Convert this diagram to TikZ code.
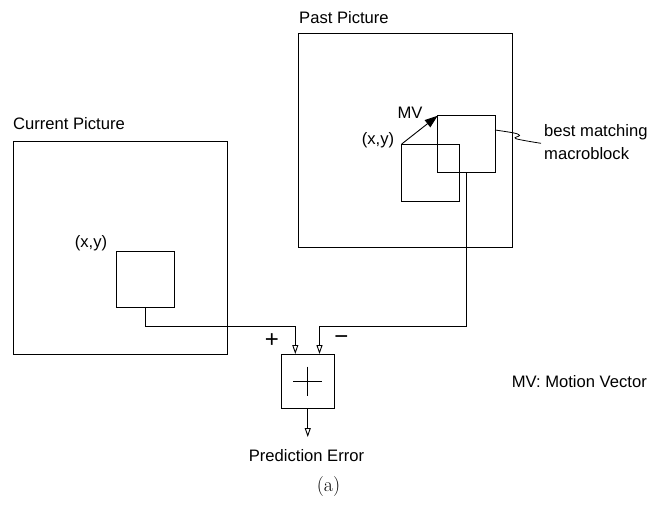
\documentclass[tikz,border=0pt]{standalone}
\usepackage{fontspec}
\setsansfont{Liberation Sans}
\usetikzlibrary{arrows.meta,calc}
\begin{document}
\begin{tikzpicture}[x=1pt,y=-1pt,
  box/.style={draw, line width=0.9pt, inner sep=0pt, outer sep=0pt},
  lbl/.style={font=\sffamily\fontsize{16.6}{19}\selectfont, inner sep=0pt},
  sgn/.style={font=\sffamily\fontsize{24}{26}\selectfont, inner sep=0pt},
  arr/.style={line width=0.9pt, -{Triangle[open,length=9pt,width=6pt]}},
  mvarr/.style={line width=0.9pt, -{Triangle[length=13pt,width=9pt]}}]
\useasboundingbox (0,0) rectangle (651,504);
% boxes
\node[box, minimum width=213.7pt, minimum height=213.3pt] (cur) at (120.2,247.7) {};
\node[box, minimum width=57.6pt, minimum height=56pt] (cs) at (145.5,279.7) {};
\node[box, minimum width=214.2pt, minimum height=214.2pt] (past) at (405.4,140.6) {};
\node[box, minimum width=57.6pt, minimum height=57pt] (ob) at (430.5,172.5) {};
\node[box, minimum width=57.3pt, minimum height=57pt] (best) at (466.35,144.2) {};
\node[box, minimum width=52.5pt, minimum height=54pt] (sum) at (307.75,381) {};
\draw[line width=0.9pt] ($(sum.center)+(-14.5,0)$) -- ($(sum.center)+(14.5,0)$)
  ($(sum.center)+(0,-14.5)$) -- ($(sum.center)+(0,14.5)$);
% labels
\node[lbl, anchor=west] (lpast) at (299,18) {Past Picture};
\node[lbl, anchor=west] (lcur) at (13,124) {Current Picture};
\node[lbl] (xy1) at (91,243) {(x,y)};
\node[lbl] (xy2) at (378,140) {(x,y)};
\node[lbl] (mv) at (410,113) {MV};
\node[lbl, anchor=west] (bm1) at (544,132) {best matching};
\node[lbl, anchor=west] (bm2) at (544,154) {macroblock};
\node[sgn] (plus) at (272,340.5) {+};
\node[sgn] (minus) at (341.5,340) {\textminus};
\node[lbl, anchor=east] (mvleg) at (647,382) {MV: Motion Vector};
\node[lbl] (pe) at (306.5,456) {Prediction Error};
\node[inner sep=0pt, font=\fontsize{20}{24}\selectfont] (cap) at (328.5,487) {(a)};
% connectors
\coordinate (k1) at (295.3,326);
\coordinate (k2) at (319.5,326);
\coordinate (out) at (307.75,437);
\draw[arr] (cs.south) |- (k1) -- (k1 |- sum.north);
\draw[arr] (best.south) |- (k2) -- (k2 |- sum.north);
\draw[arr] (sum.south) -- (out);
\draw[mvarr] (ob.north west) -- (best.north west);
\draw[line width=0.8pt] plot[smooth, tension=0.6] coordinates {(best.east |- 0,130) (514,133) (519.5,135.5) (516,138.7) (541,143.3)};
\end{tikzpicture}
\end{document}
